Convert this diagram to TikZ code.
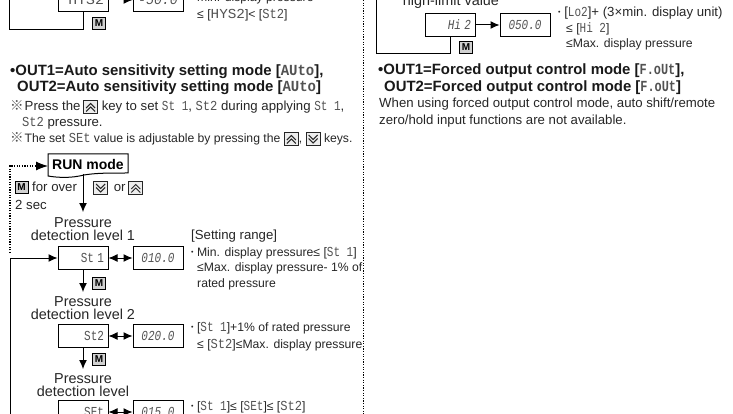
\documentclass[tikz,border=0pt]{standalone}
\usepackage{fontspec}
\setmainfont{Liberation Sans}
\newfontfamily\segfont{Liberation Mono}
\newfontfamily\cjk{Noto Sans CJK JP}
\usepackage{xcolor}
\usepackage{graphicx}
\usepackage{tikz}
\usetikzlibrary{arrows.meta,calc}
\definecolor{txtcol}{gray}{0.15}
\definecolor{segcol}{gray}{0.32}
\definecolor{keycol}{gray}{0.82}
\newcommand{\seg}[2][1]{{\segfont\fontsize{11}{12}\selectfont\textcolor{segcol}{\scalebox{#1}[1.25]{#2}}}}
\newcommand{\segh}[2][1]{{\segfont\fontsize{14}{14}\selectfont\textcolor{segcol}{\scalebox{#1}[1.1]{#2}}}}
\newcommand{\refmark}{{\cjk\fontsize{13.5}{14}\selectfont\textcolor{segcol}{※}}}
\newcommand{\smallbullet}{\raisebox{2pt}{\fontsize{7}{7}\selectfont•}}
\newcommand{\keyUp}{\tikz[baseline=-3pt,line width=1pt,x=1pt,y=1pt]{\draw[fill=keycol!40] (0,-6) rectangle (14,7); \draw (2.5,0) -- (7,4.5) -- (11.5,0); \draw (2.5,-3.5) -- (7,1) -- (11.5,-3.5);}}
\newcommand{\keyDown}{\tikz[baseline=-3pt,line width=1pt,x=1pt,y=1pt]{\draw[fill=keycol!40] (0,-6) rectangle (14,7); \draw (2.5,5) -- (7,0.5) -- (11.5,5); \draw (2.5,1.5) -- (7,-3) -- (11.5,1.5);}}
\tikzset{
    dispbox/.style={draw,line width=1pt,minimum height=23pt,minimum width=50pt,text width=42pt,inner sep=0pt,align=right},
    valbox/.style={draw,line width=1pt,minimum height=23pt,minimum width=50pt,inner sep=0pt,font=\itshape},
    keybox/.style={draw,line width=0.9pt,fill=keycol,minimum width=13pt,minimum height=12pt,inner sep=0pt,font=\bfseries\fontsize{10}{10}\selectfont},
    txt/.style={anchor=base west,inner sep=0pt,text=txtcol,font=\fontsize{12.2}{14}\selectfont},
    txtb/.style={anchor=base west,inner sep=0pt,text=txtcol,font=\fontsize{13.2}{14}\selectfont},
    ctxt/.style={anchor=base,inner sep=0pt,text=txtcol,font=\fontsize{14.4}{14}\selectfont},
    headtxt/.style={anchor=base west,inner sep=0pt,text=black!90,font=\bfseries\fontsize{14.9}{14}\selectfont},
    flow/.style={-{Latex[length=9pt,width=8pt]},line width=1pt},
    both/.style={{Latex[length=9pt,width=8pt]}-{Latex[length=9pt,width=8pt]},line width=1pt},
    line/.style={line width=1pt},
    dots/.style={dash pattern=on 1.3pt off 1.3pt,line width=1.2pt}
}
\begin{document}
\begin{tikzpicture}[x=1pt,y=-1pt]
    \useasboundingbox (0,0) rectangle (733,414);
    \clip (0,0) rectangle (733,414);
    \pgfmathsetmacro{\dx}{75};
    \pgfmathsetmacro{\cx}{83};
    \pgfmathsetmacro{\tx}{197};

    % left column, top
    \node[dispbox] (hys) at (\cx,0) {\seg[1.35]{HYS2}\hspace{-3pt}};
    \node[valbox] (hysv) at ($(hys)+(\dx,0)$) {\seg[1.2]{-50.0}};
    \draw[flow] (hys) -- (hysv);
    \coordinate (hysA) at (\cx,30);
    \coordinate (hysB) at (9,30);
    \coordinate (hysC) at (9,0);
    \draw[line] (hys) -- (hysA) -- (hysB) -- (hysC);
    \node[keybox] (keyA) at (99,23.5) {M};
    \node[txt] (minA) at (\tx,2) {min. display pressure};
    \node[txt] (minB) at (\tx,19) {≤ [\seg[1.3]{HYS2}]< [\seg[1.1]{St2}]};

    \node[headtxt] (autoA) at (10,76) {•OUT1=Auto sensitivity setting mode [\segh{AUto}],};
    \node[headtxt] (autoB) at (17,92) {OUT2=Auto sensitivity setting mode [\segh{AUto}]};
    \node[txtb] (noteA) at (10,111) {\refmark\hspace{1pt}Press the\hspace{-1pt} \keyUp{} key to set \seg{St 1}, \seg[1.1]{St2} during applying \seg{St 1},};
    \node[txtb] (noteB) at (22,127) {\seg[1.1]{St2} pressure.};
    \node[txt] (noteC) at (10,143) {\refmark\hspace{1pt}The set \seg[1.1]{SEt} value is adjustable by pressing the \keyUp, \keyDown{} keys.};

    % run mode
    \node[inner sep=0pt,font=\bfseries\fontsize{14}{14}\selectfont] (run) at (88,164) {RUN mode};
    \draw[line] (48,154) -- (128,154) -- (128,173) .. controls (108,173) and (96,173) .. (84,175) .. controls (72,178) and (60,178) .. (48,176) -- cycle;
    \coordinate (runB) at (\cx,174);
    \coordinate (runC) at (\cx,212);
    \draw[flow] (runB) -- (runC);
    \coordinate (dotA) at (10,253);
    \coordinate (dotB) at (10,166);
    \coordinate (dotC) at (48,166);
    \draw[dots] (dotA) -- (dotB) -- (36,166);
    \draw[-{Latex[length=12pt,width=9pt]},line width=1pt] (35,166) -- (dotC);
    \node[keybox] (keyB) at (21.5,187) {M};
    \node[txtb] (overA) at (32,192) {for over};
    \node[txtb] (overB) at (15,210) {2 sec};
    \node[txtb] (orA) at (93,192) {\keyDown\hspace{2pt} or \hspace{-1pt}\keyUp};

    % level 1
    \node[ctxt] (prA) at (\cx,227) {Pressure};
    \node[ctxt] (levA) at (\cx,240) {detection level 1};
    \node[dispbox] (St1) at (\cx,258) {\seg{St 1}};
    \node[valbox] (St1v) at ($(St1)+(\dx,0)$) {\seg{010.0}};
    \draw[both] (St1) -- (St1v);
    \coordinate (backA) at (10,414);
    \coordinate (backB) at (10,258);
    \draw[flow] (backA) -- (backB) -- (St1);
    \coordinate (oneB) at (\cx,292);
    \draw[flow] (St1) -- (oneB);
    \node[keybox] (keyC) at (99,283) {M};
    \node[txtb] (setR) at (191,239.5) {[Setting range]};
    \node[txt] (setA) at (191,256) {\smallbullet{} Min. display pressure≤ [\seg{St 1}]};
    \node[txt] (setB) at (\tx,271) {≤Max. display pressure- 1\% of};
    \node[txt] (setC) at (\tx,287) {rated pressure};

    % level 2
    \node[ctxt] (prB) at (\cx,306.5) {Pressure};
    \node[ctxt] (levB) at (\cx,319.5) {detection level 2};
    \node[dispbox] (St2) at (\cx,336) {\seg{St2}};
    \node[valbox] (St2v) at ($(St2)+(\dx,0)$) {\seg{020.0}};
    \draw[both] (St2) -- (St2v);
    \coordinate (twoB) at (\cx,369);
    \draw[flow] (St2) -- (twoB);
    \node[keybox] (keyD) at (99,359.5) {M};
    \node[txt] (twoA) at (191,331) {\smallbullet{} [\seg{St 1}]+1\% of rated pressure};
    \node[txt] (twoC) at (\tx,348) {≤ [\seg[1.1]{St2}]≤Max. display pressure};

    % level 3
    \node[ctxt] (prC) at (\cx,383.5) {Pressure};
    \node[ctxt] (levC) at (\cx,396.5) {detection level};
    \node[dispbox] (SEt) at (\cx,412) {\seg{SEt}};
    \node[valbox] (SEtv) at ($(SEt)+(\dx,0)$) {\seg{015.0}};
    \draw[both] (SEt) -- (SEtv);
    \node[txt] (threeA) at (191,410) {\smallbullet{} [\seg{St 1}]≤ [\seg{SEt}]≤ [\seg[1.1]{St2}]};

    % divider
    \coordinate (divA) at (363.5,0);
    \coordinate (divB) at (363.5,414);
    \draw[dots] (divA) -- (divB);

    % right column
    \node[ctxt] (high) at (451,6) {high-limit value};
    \node[dispbox] (Hi2) at (450,25) {\itshape\seg{Hi 2}\hspace{3pt}};
    \node[valbox] (Hi2v) at ($(Hi2)+(75,0)$) {\seg{050.0}};
    \draw[flow] (Hi2) -- (Hi2v);
    \coordinate (hiA) at (450,54);
    \coordinate (hiB) at (376,54);
    \coordinate (hiC) at (376,0);
    \draw[line] (Hi2) -- (hiA) -- (hiB) -- (hiC);
    \node[keybox] (keyE) at (466,47.5) {M};
    \node[txtb] (rangeA) at (558,17) {\smallbullet{} [\seg{Lo2}]+ (3×min. display unit)};
    \node[txt] (rangeB) at (566,33) {≤ [\seg{Hi 2}]};
    \node[txt] (rangeC) at (566,48) {≤Max. display pressure};

    \node[headtxt] (forceA) at (378,75) {•OUT1=Forced output control mode [\segh[0.85]{F.oUt}],};
    \node[headtxt] (forceB) at (384,92) {OUT2=Forced output control mode [\segh[0.85]{F.oUt}]};
    \node[txtb] (whenA) at (379,108) {When using forced output control mode, auto shift/remote};
    \node[txtb] (whenB) at (379,125) {zero/hold input functions are not available.};
\end{tikzpicture}
\end{document}
